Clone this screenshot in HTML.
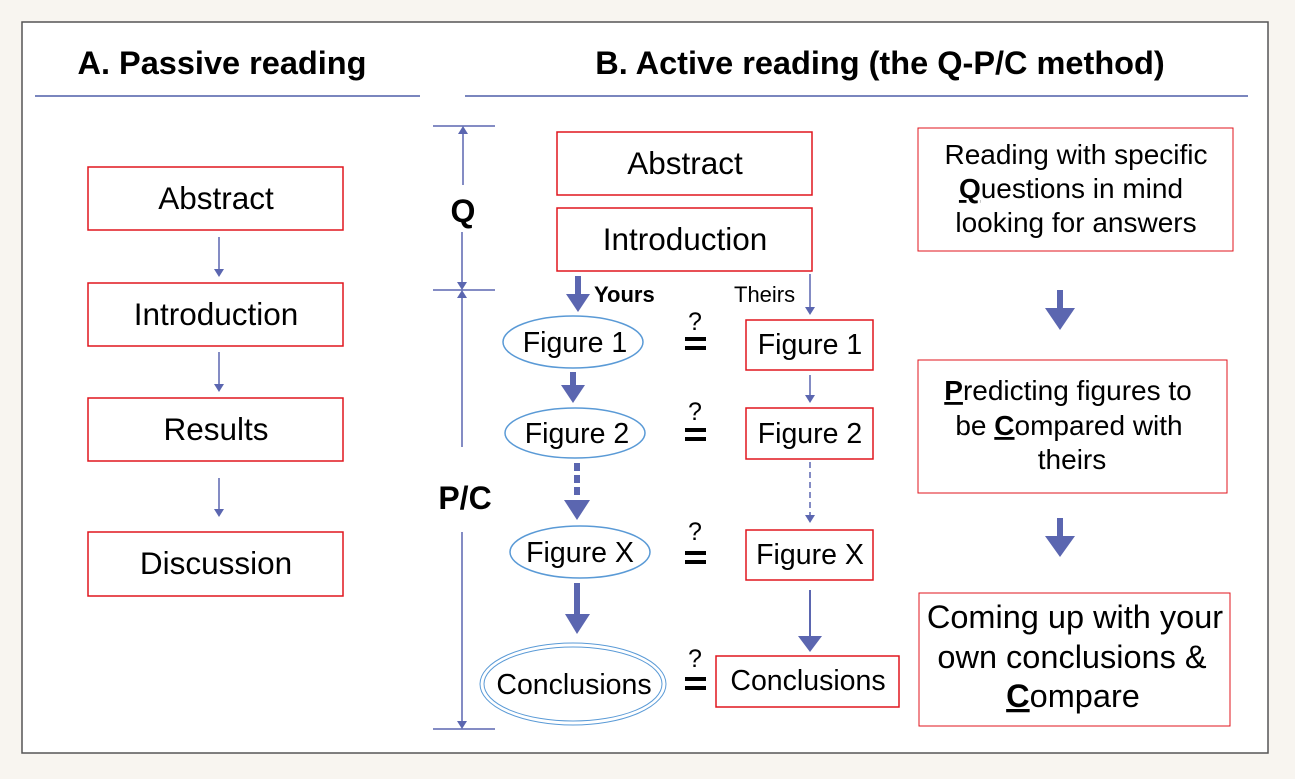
<!DOCTYPE html>
<html><head><meta charset="utf-8"><style>
html,body{margin:0;padding:0;background:#f8f5f0;}
svg{display:block;font-family:"Liberation Sans",Arial,sans-serif;}
</style></head><body>
<svg width="1295" height="779" viewBox="0 0 1295 779">
<rect x="22" y="22" width="1246" height="731" fill="#fff" stroke="#555" stroke-width="1.5"/>
<g font-weight="bold" font-size="32.5" text-anchor="middle" fill="#000">
<text x="222" y="74">A. Passive reading</text>
<text x="880" y="74">B. Active reading (the Q-P/C method)</text>
</g>
<line x1="35" y1="96" x2="420" y2="96" stroke="#4e5ea8" stroke-width="1.5"/>
<line x1="465" y1="96" x2="1248" y2="96" stroke="#4e5ea8" stroke-width="1.5"/>

<g fill="none" stroke="#e0161e" stroke-width="1.5">
<rect x="88" y="167" width="255" height="63"/>
<rect x="88" y="283" width="255" height="63"/>
<rect x="88" y="398" width="255" height="63"/>
<rect x="88" y="532" width="255" height="64"/>
<rect x="557" y="132" width="255" height="63"/>
<rect x="557" y="208" width="255" height="63"/>
<rect x="746" y="320" width="127" height="50"/>
<rect x="746" y="408" width="127" height="51"/>
<rect x="746" y="530" width="127" height="50"/>
<rect x="716" y="656" width="183" height="51"/>
<rect x="918" y="128" width="315" height="123" stroke-width="1"/>
<rect x="918" y="360" width="309" height="133" stroke-width="1"/>
<rect x="919" y="593" width="311" height="133" stroke-width="1"/>
</g>
<g font-size="31.5" text-anchor="middle" fill="#000">
<text x="216" y="209">Abstract</text>
<text x="216" y="325">Introduction</text>
<text x="216" y="440">Results</text>
<text x="216" y="574">Discussion</text>
<text x="685" y="174">Abstract</text>
<text x="685" y="250">Introduction</text>
</g>
<g stroke="#5b66b0" stroke-width="1.5">
<line x1="219" y1="237" x2="219" y2="270"/>
<line x1="219" y1="352" x2="219" y2="385"/>
<line x1="219" y1="478" x2="219" y2="510"/>
<line x1="433" y1="126" x2="495" y2="126"/>
<line x1="433" y1="290" x2="495" y2="290"/>
<line x1="433" y1="729" x2="495" y2="729"/>
<line x1="463" y1="132" x2="463" y2="185"/>
<line x1="462" y1="232" x2="462" y2="283"/>
<line x1="462" y1="297" x2="462" y2="447"/>
<line x1="462" y1="532" x2="462" y2="722"/>
<line x1="810" y1="274" x2="810" y2="308"/>
<line x1="810" y1="375" x2="810" y2="396"/>
<line x1="810" y1="462" x2="810" y2="516" stroke-dasharray="6,4"/>
<line x1="810" y1="590" x2="810" y2="640" stroke-width="2"/>
</g>
<g fill="#5b66b0">
<path d="M214,269 L224,269 L219,277 Z"/>
<path d="M214,384 L224,384 L219,392 Z"/>
<path d="M214,509 L224,509 L219,517 Z"/>
<path d="M458,134 L468,134 L463,126 Z"/>
<path d="M457,282 L467,282 L462,290 Z"/>
<path d="M457,298 L467,298 L462,290 Z"/>
<path d="M457,721 L467,721 L462,729 Z"/>
<path d="M805,307 L815,307 L810,315 Z"/>
<path d="M805,395 L815,395 L810,403 Z"/>
<path d="M805,515 L815,515 L810,523 Z"/>
<path d="M798,636 L822,636 L810,652 Z"/>
</g>
<g font-weight="bold" font-size="32" text-anchor="middle">
<text x="463" y="222">Q</text>
<text x="465" y="509">P/C</text>
</g>
<g fill="#5b66b0">
<rect x="575" y="276" width="6" height="20"/><path d="M566,294 L590,294 L578,312 Z"/>
<rect x="570" y="372" width="6" height="16"/><path d="M561,385 L585,385 L573,403 Z"/>
<rect x="574" y="463" width="6" height="8"/><rect x="574" y="475" width="6" height="8"/><rect x="574" y="487" width="6" height="8"/>
<path d="M564,500 L590,500 L577,520 Z"/>
<rect x="574" y="583" width="6" height="33"/><path d="M565,614 L590,614 L577,634 Z"/>
<rect x="1057" y="290" width="6" height="20"/><path d="M1045,308 L1075,308 L1060,330 Z"/>
<rect x="1057" y="518" width="6" height="20"/><path d="M1045,536 L1075,536 L1060,557 Z"/>
</g>
<text x="594" y="302" font-size="22" font-weight="bold">Yours</text>
<text x="734" y="302" font-size="22">Theirs</text>
<g fill="none" stroke="#5a9ad6" stroke-width="1.5">
<ellipse cx="573" cy="342" rx="70" ry="26"/>
<ellipse cx="575" cy="433" rx="70" ry="25"/>
<ellipse cx="580" cy="552" rx="70" ry="26"/>
<ellipse cx="573" cy="684" rx="93" ry="41" stroke-width="1"/>
<ellipse cx="573" cy="684" rx="89" ry="37" stroke-width="1"/>
</g>
<g font-size="28.5" text-anchor="middle">
<text x="575" y="352">Figure 1</text>
<text x="577" y="443">Figure 2</text>
<text x="580" y="562">Figure X</text>
<text x="574" y="694">Conclusions</text>
<text x="810" y="354">Figure 1</text>
<text x="810" y="443">Figure 2</text>
<text x="810" y="564">Figure X</text>
<text x="808" y="690">Conclusions</text>
</g>
<g text-anchor="middle" font-size="25">
<text x="695" y="330">?</text>
<text x="695" y="420">?</text>
<text x="695" y="540">?</text>
<text x="695" y="667">?</text>
</g>
<g fill="#000">
<rect x="685" y="337" width="21" height="4"/><rect x="685" y="346" width="21" height="4"/>
<rect x="685" y="428" width="21" height="4"/><rect x="685" y="437" width="21" height="4"/>
<rect x="685" y="551" width="21" height="4"/><rect x="685" y="560" width="21" height="4"/>
<rect x="685" y="677" width="21" height="4"/><rect x="685" y="686" width="21" height="4"/>
</g>
<g font-size="28" text-anchor="middle">
<text x="1076" y="164">Reading with specific</text>
<text x="1071" y="198"><tspan font-weight="bold" text-decoration="underline">Q</tspan>uestions in mind</text>
<text x="1076" y="232">looking for answers</text>
<text x="1068" y="400"><tspan font-weight="bold" text-decoration="underline">P</tspan>redicting figures to</text>
<text x="1069" y="435">be <tspan font-weight="bold" text-decoration="underline">C</tspan>ompared with</text>
<text x="1072" y="469">theirs</text>
</g>
<g font-size="32.5" text-anchor="middle">
<text x="1075" y="628">Coming up with your</text>
<text x="1072" y="668">own conclusions &amp;</text>
<text x="1073" y="707"><tspan font-weight="bold" text-decoration="underline">C</tspan>ompare</text>
</g>
</svg>
</body></html>
